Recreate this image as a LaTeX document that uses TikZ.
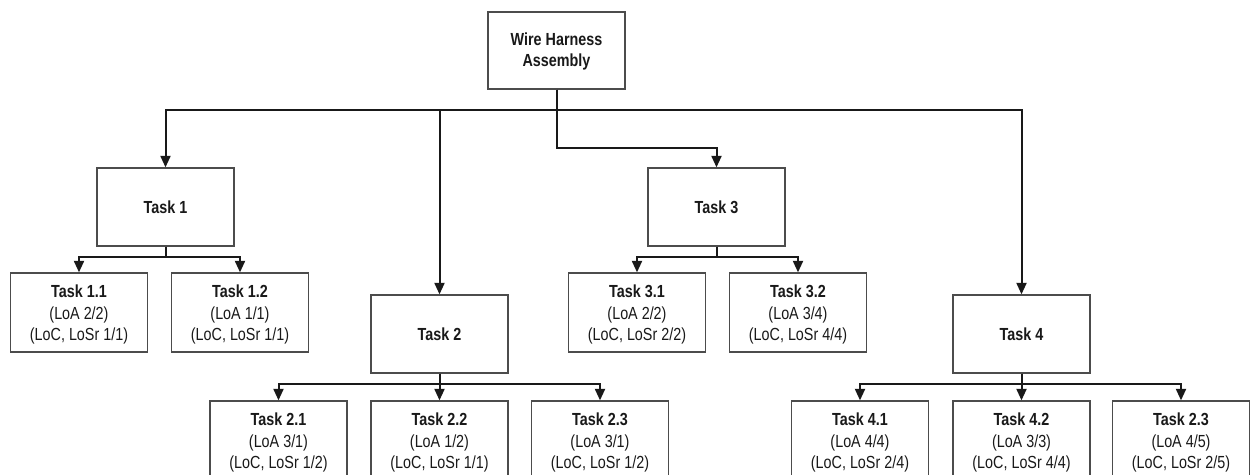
\documentclass[tikz,border=0pt]{standalone}
\usepackage{fontspec}
\setmainfont{Liberation Sans}[FakeStretch=0.82]
\usetikzlibrary{arrows.meta,calc}

\tikzset{
  box/.style={draw=black!70, line width=1.3pt, fill=white, minimum width=137pt, inner sep=0pt},
  parentbox/.style={box, minimum height=78pt},
  leafbox/.style={box, minimum height=79pt},
  lbl/.style={align=center, font=\fontsize{17.5}{21.5}\selectfont, text=black!90, inner sep=0pt},
  conn/.style={line width=2pt, black!90},
  arr/.style={conn, -{Triangle[width=10pt,length=11.5pt]}}
}

\begin{document}
\begin{tikzpicture}[x=1pt,y=-1pt]
\useasboundingbox (0,0) rectangle (1250,474);
\clip (0,0) rectangle (1250,474);

% root
\node[box, minimum height=77pt] (root) at (556.5,50.5) {};
\node[lbl] (rootl) at ([yshift=-1pt]root.center) {\textbf{Wire Harness}\\\textbf{Assembly}};

% first level
\node[parentbox] (t1) at (165.5,207) {};
\node[lbl] (t1l) at (t1.center) {\textbf{Task 1}};
\node[parentbox] (t3) at (716.5,207) {};
\node[lbl] (t3l) at (t3.center) {\textbf{Task 3}};
\node[parentbox] (t2) at (439.5,334) {};
\node[lbl] (t2l) at (t2.center) {\textbf{Task 2}};
\node[parentbox] (t4) at (1021.5,334) {};
\node[lbl] (t4l) at (t4.center) {\textbf{Task 4}};

% leaves
\foreach \n/\x/\y/\a/\b/\c in {
  t11/79/312.5/{Task 1.1}/{LoA 2/2}/{LoC, LoSr 1/1},
  t12/240/312.5/{Task 1.2}/{LoA 1/1}/{LoC, LoSr 1/1},
  t31/637/312.5/{Task 3.1}/{LoA 2/2}/{LoC, LoSr 2/2},
  t32/798/312.5/{Task 3.2}/{LoA 3/4}/{LoC, LoSr 4/4},
  t21/278.5/440.5/{Task 2.1}/{LoA 3/1}/{LoC, LoSr 1/2},
  t22/439.5/440.5/{Task 2.2}/{LoA 1/2}/{LoC, LoSr 1/1},
  t23/600/440.5/{Task 2.3}/{LoA 3/1}/{LoC, LoSr 1/2},
  t41/860/440.5/{Task 4.1}/{LoA 4/4}/{LoC, LoSr 2/4},
  t42/1021.5/440.5/{Task 4.2}/{LoA 3/3}/{LoC, LoSr 4/4},
  t43/1181/440.5/{Task 2.3}/{LoA 4/5}/{LoC, LoSr 2/5}}{
  \node[leafbox] (\n) at (\x,\y) {};
  \node[lbl] (\n l) at ([yshift=-2pt]\n.center) {\textbf{\a}\\(\b)\\(\c)};
}

% root connectors
\draw[arr] (root.south) -- ++(0,20) -| (t1.north);
\draw[arr] (root.south) -- ++(0,20) -| (t2.north);
\draw[arr] (root.south) -- ++(0,20) -| (t4.north);
\draw[arr] (root.south) |- ($(t3.north)+(0,-19)$) -- (t3.north);

% task 1 children
\draw[arr] (t1.south) -- ++(0,10) -| (t11.north);
\draw[arr] (t1.south) -- ++(0,10) -| (t12.north);
% task 3 children
\draw[arr] (t3.south) -- ++(0,10) -| (t31.north);
\draw[arr] (t3.south) -- ++(0,10) -| (t32.north);
% task 2 children
\draw[arr] (t2.south) -- ++(0,10) -| (t21.north);
\draw[arr] (t2.south) -- (t22.north);
\draw[arr] (t2.south) -- ++(0,10) -| (t23.north);
% task 4 children
\draw[arr] (t4.south) -- ++(0,10) -| (t41.north);
\draw[arr] (t4.south) -- (t42.north);
\draw[arr] (t4.south) -- ++(0,10) -| (t43.north);
\end{tikzpicture}
\end{document}
